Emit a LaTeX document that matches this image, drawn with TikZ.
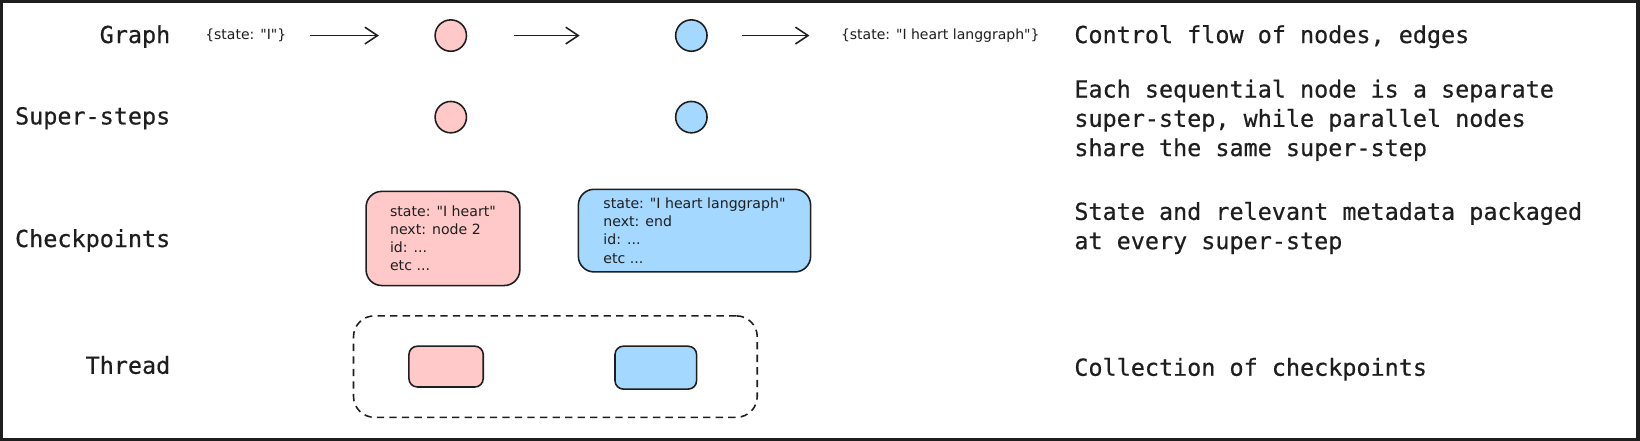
\documentclass[tikz,border=0pt]{standalone}
\usepackage{fontspec}
\usetikzlibrary{arrows.meta,positioning}
\newfontfamily\labelfont[FakeBold=0.5]{DejaVu Sans Mono}
\newfontfamily\notefont{DejaVu Sans}
\definecolor{ink}{HTML}{1E1E1E}
\definecolor{pinkfill}{HTML}{FFC9C9}
\definecolor{bluefill}{HTML}{A5D8FF}
\begin{document}
\begin{tikzpicture}[x=1pt,y=-1pt,
  rowlabel/.style={anchor=east,inner sep=0pt,text=ink,font=\labelfont\fontsize{22.4}{28}\selectfont},
  desc/.style={anchor=west,inner sep=0pt,align=left,text=ink,font=\labelfont\fontsize{22.4}{28}\selectfont},
  note/.style={inner sep=0pt,text=ink,font=\notefont\fontsize{13.4}{17}\selectfont},
  dot/.style={circle,draw=ink,line width=1.5pt,minimum size=30pt,inner sep=0pt},
  card/.style={draw=ink,line width=1.5pt,rounded corners=15pt,align=left,inner sep=0pt,text=ink,font=\notefont\fontsize{13.5}{17.3}\selectfont},
  chip/.style={draw=ink,line width=1.5pt,rounded corners=8pt,inner sep=0pt},
  flow/.style={draw=ink,line width=1.5pt,-{Straight Barb[length=12pt,width=16pt]}}]
  \useasboundingbox (0,0) rectangle (1568,421.6);
  \fill[ink] (0,0) rectangle (1568,421.6);
  \fill[white] (2.9,2.9) rectangle (1564.2,418.7);

  \node[rowlabel] (graph) at (163,35) {Graph};
  \node[rowlabel] (super) at (163,113) {Super-steps};
  \node[rowlabel] (check) at (163,230) {Checkpoints};
  \node[rowlabel] (thread) at (163,349) {Thread};

  \node[note] (sIn) at (235,34) {\{state: "I"\}};
  \node[dot,fill=pinkfill] (g1) at (431,34) {};
  \node[dot,fill=bluefill] (g2) at (661,34) {};
  \node[note] (sOut) at (899,34) {\{state: "I heart langgraph"\}};
  \draw[flow,shorten <=22pt,shorten >=53pt] (sIn) -- (g1);
  \draw[flow,shorten <=45pt,shorten >=91pt] (g1) -- (g2);
  \draw[flow,shorten <=33pt,shorten >=30pt] (g2) -- (sOut);

  \node[dot,fill=pinkfill] (s1) at (431,112) {};
  \node[dot,fill=bluefill] (s2) at (661,112) {};

  \node[card,fill=pinkfill,minimum width=147pt,minimum height=90pt] (c1) at (423.5,228)
    {state: "I heart"\\next: node 2\\id: ...\\etc ...};
  \node[card,fill=bluefill,minimum width=222pt,minimum height=79pt] (c2) at (664,220.5)
    {state: "I heart langgraph"\\next: end\\id: ...\\etc ...};

  \node[draw=ink,line width=1.5pt,dash pattern=on 7pt off 5pt,rounded corners=20pt,
    minimum width=386pt,minimum height=97pt] (thr) at (531,350.5) {};
  \node[chip,fill=pinkfill,minimum width=71pt,minimum height=39pt] (t1) at (426.5,350.5) {};
  \node[chip,fill=bluefill,minimum width=78pt,minimum height=41pt] (t2) at (627,351.5) {};

  \node[desc] (dGraph) at (1027,35) {Control flow of nodes, edges};
  \node[desc] (dSuper) at (1027,115) {Each sequential node is a separate\\super-step, while parallel nodes\\share the same super-step};
  \node[desc] (dCheck) at (1027,218) {State and relevant metadata packaged\\at every super-step};
  \node[desc] (dThread) at (1027,353) {Collection of checkpoints};
\end{tikzpicture}
\end{document}
